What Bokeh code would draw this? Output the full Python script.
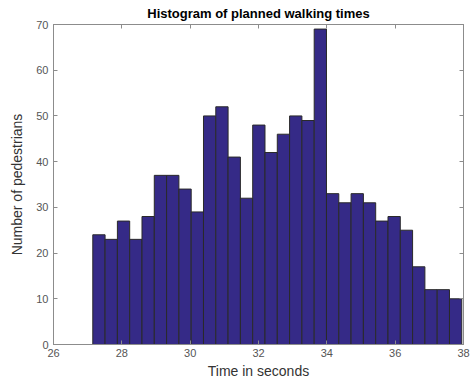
from bokeh.plotting import figure
from bokeh.models import Range1d, FixedTicker, LinearAxis, ColumnDataSource
from bokeh.embed import file_html
from bokeh.resources import INLINE

# Histogram data
bin_start = 27.15
bin_width = 0.36
counts = [24, 23, 27, 23, 28, 37, 37, 34, 29, 50, 52, 41, 32, 48, 42,
          46, 50, 49, 69, 33, 31, 33, 31, 27, 28, 25, 17, 12, 12, 10]
x_ticks = [26, 28, 30, 32, 34, 36, 38]
y_ticks = [0, 10, 20, 30, 40, 50, 60, 70]

lefts = [bin_start + i * bin_width for i in range(len(counts))]
rights = [l + bin_width for l in lefts]
src = ColumnDataSource(dict(left=lefts, right=rights, top=counts, bottom=[0] * len(counts)))

p = figure(width=471, height=383, output_backend="svg", toolbar_location=None,
           x_range=Range1d(26, 38), y_range=Range1d(0, 70),
           title="Histogram of planned walking times",
           min_border_left=53, min_border_right=8, min_border_top=24, min_border_bottom=39)
p.quad(left="left", right="right", top="top", bottom="bottom", source=src,
       fill_color="#352A87", line_color="#2a2a2a", line_width=1)

p.title.align = "center"
p.title.text_font = "Liberation Sans"
p.title.text_font_size = "13px"
p.title.text_font_style = "bold"
p.title.text_color = "#000000"
p.title.standoff = 7

p.xgrid.visible = False
p.ygrid.visible = False
p.outline_line_color = "#8c8c8c"
p.outline_line_width = 1
p.background_fill_color = "white"
p.border_fill_color = "white"

def style(ax):
    ax.major_tick_in = 4
    ax.major_tick_out = 0
    ax.minor_tick_line_color = None
    ax.major_tick_line_color = "#8c8c8c"
    ax.axis_line_color = "#8c8c8c"
    ax.major_label_text_font = "Liberation Sans"
    ax.major_label_text_font_size = "11px"
    ax.major_label_text_color = "#555555"
    ax.axis_label_text_font = "Liberation Sans"
    ax.axis_label_text_font_size = "14px"
    ax.axis_label_text_font_style = "normal"
    ax.axis_label_text_color = "#333333"

p.xaxis.ticker = FixedTicker(ticks=x_ticks)
p.yaxis.ticker = FixedTicker(ticks=y_ticks)
p.xaxis.axis_label = "Time in seconds"
p.yaxis.axis_label = "Number of pedestrians"
p.xaxis.axis_label_standoff = 3
p.yaxis.axis_label_standoff = 8
p.xaxis.major_label_standoff = 4
p.yaxis.major_label_standoff = 5
style(p.xaxis[0])
style(p.yaxis[0])

ax_top = LinearAxis(ticker=FixedTicker(ticks=x_ticks),
                    major_label_overrides={t: "" for t in x_ticks})
ax_right = LinearAxis(ticker=FixedTicker(ticks=y_ticks),
                      major_label_overrides={t: "" for t in y_ticks})
style(ax_top)
style(ax_right)
ax_top.major_label_standoff = 0
ax_right.major_label_standoff = 0
p.add_layout(ax_top, "above")
p.add_layout(ax_right, "right")

open("out.html", "w").write(file_html(p, INLINE))
